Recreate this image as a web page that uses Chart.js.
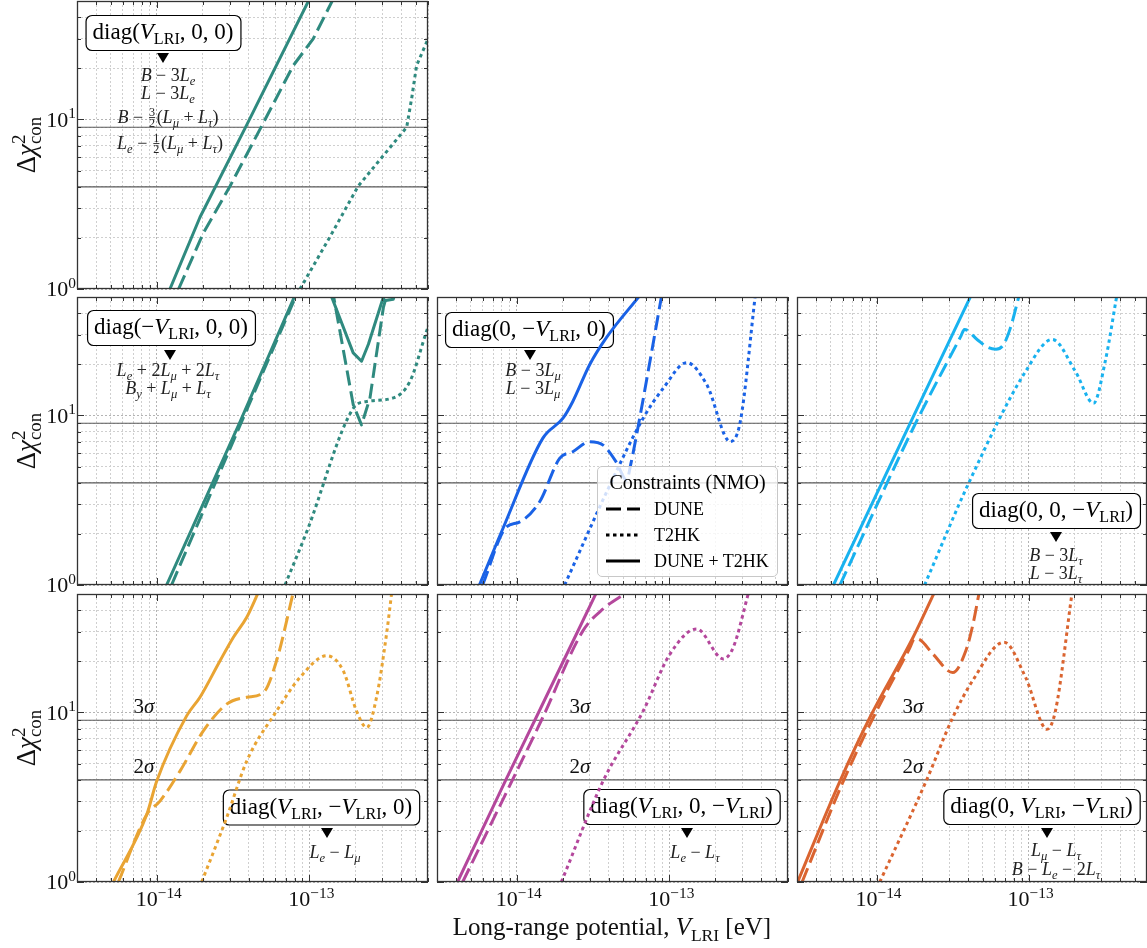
<!DOCTYPE html>
<html>
<head>
<meta charset="utf-8">
<script src="https://cdn.jsdelivr.net/npm/chart.js@4.4.1/dist/chart.umd.min.js"></script>
<style>
  body { margin: 0; background: #fff; }
  #fig { position: relative; width: 1147px; height: 948px; overflow: hidden; font-family: 'Liberation Serif', serif; }
  #fig canvas { position: absolute; left: 0; top: 0; }
  #legend { position: absolute; left: 597px; top: 466px; width: 181px; height: 111px; box-sizing: border-box;
            border: 1px solid #c8c8c8; border-radius: 5px; background: rgba(255,255,255,0.8); z-index: 5; }
  #legend .lt { position: absolute; left: 0; width: 100%; top: 4px; text-align: center; font-size: 20px; }
  #legend .le { position: absolute; left: 8px; font-size: 18px; height: 20px; line-height: 20px; }
  #legend .le svg { position: absolute; left: 0; top: 5px; }
  #legend .le span { position: absolute; left: 48px; white-space: nowrap; }
</style>
</head>
<body>
<div id="fig"><div id="legend"></div></div>
<script>
// axis ranges, sigma levels
const X_MIN = 3e-15, X_MAX = 6e-13;
const Y_MIN = 1, Y_MAX = 50;
const sigmaLevels = [4, 9];
const sigmaNames = ['2', '3'];

// series names (legend)
const seriesNames = ['DUNE', 'T2HK', 'DUNE + T2HK'];

// ---- data: [V_LRI (eV), delta chi^2] ----
// diag(V, 0, 0)
const aDune = [[1.39e-14,1],[2.02e-14,2.14],[3.02e-14,4.04],[4.88e-14,9.17],[7.85e-14,20.8],[1.06e-13,29.9],[1.46e-13,53]];
const aT2hk = [[8.69e-14,1],[1.37e-13,2.04],[2.09e-13,4.04],[4.35e-13,9.0],[4.7e-13,13.5],[5.05e-13,20.8],[5.88e-13,28.6],[6.2e-13,32]];
const aBoth = [[1.22e-14,1],[1.92e-14,2.65],[3.89e-14,9.3],[1.02e-13,53]];
// diag(-V, 0, 0)
const bDune = [[1.25e-14,1],[3.6e-14,9.2],[8.2e-14,51],[1.08e-13,90],[1.44e-13,51],[1.94e-13,11.6],[2.2e-13,8.8],[2.5e-13,12.7],[3.06e-13,43.4],[3.2e-13,50],[3.5e-13,50.5],[3.7e-13,60]];
const bT2hk = [[6.93e-14,1],[9.6e-14,2.05],[1.94e-13,11.0],[2.38e-13,12.1],[3.55e-13,12.7],[4.57e-13,15.9],[5.88e-13,31.5],[6.2e-13,36]];
const bBoth = [[1.16e-14,1],[3.52e-14,9.21],[8.05e-14,51],[1.05e-13,90],[1.39e-13,51],[1.94e-13,23.4],[2.2e-13,20.9],[2.44e-13,26.3],[3.06e-13,50],[3.1e-13,47.5],[3.55e-13,48.5],[3.8e-13,60]];
// diag(0, -V, 0)
const cDune = [[5.97e-15,1],[8.51e-15,2.19],[1.04e-14,2.35],[1.41e-14,3.09],[1.91e-14,5.58],[2.33e-14,6.11],[3.01e-14,7.01],[3.68e-14,6.69],[4.5e-14,5.3],[5.25e-14,4.15],[5.6e-14,5.2],[6.1e-14,7.67],[7.47e-14,20.9],[8.91e-14,51]];
const cT2hk = [[2.06e-14,1],[4.07e-14,3.87],[6.74e-14,9.64],[9.14e-14,14.5],[1.3e-13,20.5],[1.76e-13,15.2],[2.51e-13,7.01],[2.92e-13,9.21],[3.66e-13,51]];
const cBoth = [[5.69e-15,1],[8.09e-15,2.14],[1.48e-14,7.33],[2.01e-14,9.64],[2.33e-14,12.1],[3.01e-14,20.0],[3.87e-14,28.8],[6.41e-14,51]];
// diag(0, 0, -V)
const dDune = [[5.75e-15,1],[1.74e-14,8.41],[3.6e-14,29.6],[3.78e-14,32.2],[4.6e-14,28.0],[5.4e-14,25.2],[6.1e-14,24.6],[6.8e-14,26],[7.6e-14,33],[8.65e-14,51]];
const dT2hk = [[2.07e-14,1],[4.07e-14,4.06],[9.55e-14,18.2],[1.43e-13,28.1],[2.03e-13,18.2],[2.67e-13,11.8],[3.19e-13,20.9],[3.8e-13,51]];
const dBoth = [[5.21e-15,1],[1.5e-14,7.4],[4.18e-14,51]];
// diag(V, -V, 0)
const eDune = [[5.6e-15,1],[8.6e-15,2.5],[1.05e-14,3.0],[1.42e-14,4.51],[2.02e-14,7.78],[2.87e-14,11.2],[3.89e-14,12.3],[5.0e-14,13.1],[6.1e-14,20.2],[7.85e-14,51]];
const eT2hk = [[1.97e-14,1],[2.87e-14,2.39],[3.89e-14,5.17],[6.1e-14,10.2],[8.69e-14,16.1],[1.3e-13,21.6],[1.67e-13,17.6],[2.04e-13,10.2],[2.38e-13,8.15],[2.76e-13,12.3],[3.21e-13,29.1],[3.47e-13,51]];
const eBoth = [[5.2e-15,1],[8.6e-15,2.5],[1.0e-14,3.94],[1.57e-14,9.55],[1.92e-14,12.3],[2.6e-14,20.2],[3.18e-14,27.8],[3.89e-14,36.5],[4.63e-14,51]];
// diag(V, 0, -V)
const fDune = [[4.42e-15,1],[9.41e-15,4.03],[1.48e-14,9.34],[2.72e-14,30.4],[3.68e-14,40.8],[5.25e-14,51]];
const fT2hk = [[1.96e-14,1],[3.68e-14,3.94],[6.74e-14,10.2],[1.01e-13,22.1],[1.51e-13,31.1],[2.26e-13,20.7],[2.63e-13,24.3],[3.31e-13,51]];
const fBoth = [[4.09e-15,1],[8.51e-15,4.03],[1.34e-14,9.34],[3.33e-14,51]];
// diag(0, V, -V)
const gDune = [[3.24e-15,1],[6.05e-15,3.94],[9.52e-15,9.34],[1.65e-14,23.9],[1.78e-14,27.2],[1.9e-14,27],[2.35e-14,22.1],[3.17e-14,17.2],[3.87e-14,23.2],[4.3e-14,33],[4.73e-14,51]];
const gT2hk = [[1.05e-14,1],[2.12e-14,3.94],[3.17e-14,9.34],[4.28e-14,15.4],[6.89e-14,26.0],[9.55e-14,16.1],[1.32e-13,7.96],[1.5e-13,10.2],[1.93e-13,51]];
const gBoth = [[3.0e-15,0.98],[5.75e-15,3.94],[9.04e-15,9.34],[1.74e-14,27.8],[2.4e-14,51]];

const TEAL = '#2f8a7f', BLUE = '#1a62e6', SKY = '#18b2ef', GOLD = '#e9a433', PLUM = '#b4479c', RUST = '#da6430';

const SERIF = "'Liberation Serif', serif";
const DASHED = [15, 6], DOTTED = [3.5, 3.5];
const colLeft = [77, 437, 797], rowTop = [1, 297, 594], PW = 351, PH = 288;
const NOTE = 18;

// math-ish rich text runs: r roman, i italic, s sub, is italic sub, p sup, p0 sup w/o advance, f fraction
function runSpec(st, size) {
  switch (st) {
    case 'i': return { sz: size, it: true, dy: 0 };
    case 's': return { sz: size * 0.7, it: false, dy: size * 0.22 };
    case 'is': return { sz: size * 0.7, it: true, dy: size * 0.2 };
    case 'p': case 'p0': return { sz: size * 0.7, it: false, dy: -size * 0.38 };
    default: return { sz: size, it: false, dy: 0 };
  }
}
function setFont(ctx, sp) { ctx.font = (sp.it ? 'italic ' : '') + sp.sz.toFixed(1) + 'px ' + SERIF; }
function measureRuns(ctx, runs, size) {
  let w = 0;
  runs.forEach(([t, st]) => {
    if (st === 'f') {
      const [n, d] = t.split('/');
      ctx.font = (size * 0.68).toFixed(1) + 'px ' + SERIF;
      w += Math.max(ctx.measureText(n).width, ctx.measureText(d).width) + 3;
      return;
    }
    setFont(ctx, runSpec(st, size));
    if (st !== 'p0') w += ctx.measureText(t).width;
  });
  return w;
}
function drawRuns(ctx, runs, cx, cy, size, align) {
  const w = measureRuns(ctx, runs, size);
  let x = align === 'right' ? cx - w : align === 'left' ? cx : cx - w / 2;
  const base = cy + size * 0.33;
  ctx.textAlign = 'left';
  ctx.textBaseline = 'alphabetic';
  runs.forEach(([t, st]) => {
    if (st === 'f') {
      const [n, d] = t.split('/');
      ctx.font = (size * 0.68).toFixed(1) + 'px ' + SERIF;
      const wn = ctx.measureText(n).width, wd = ctx.measureText(d).width, fw = Math.max(wn, wd);
      const bar = base - size * 0.3;
      ctx.fillText(n, x + 1.5 + (fw - wn) / 2, bar - size * 0.08);
      ctx.fillText(d, x + 1.5 + (fw - wd) / 2, bar + size * 0.55);
      ctx.fillRect(x + 1.5, bar - 0.4, fw, 0.9);
      x += fw + 3;
      return;
    }
    const sp = runSpec(st, size);
    setFont(ctx, sp);
    ctx.fillText(t, x, base + sp.dy);
    if (st !== 'p0') x += ctx.measureText(t).width;
  });
  return w;
}

// smooth flags per series: [DUNE + T2HK, DUNE, T2HK]
const panels = [
  { col: 0, row: 0, color: TEAL, dune: aDune, t2hk: aT2hk, both: aBoth, smooth: [false, false, false],
    label: [['diag(', 'r'], ['V', 'i'], ['LRI', 's'], [', 0, 0)', 'r']], box: [163, 32.5], tri: [163, 58],
    lines: [[168, 75, [['B', 'i'], [' − 3', 'r'], ['L', 'i'], ['e', 'is']]],
            [168, 93, [['L', 'i'], [' − 3', 'r'], ['L', 'i'], ['e', 'is']]],
            [168, 117, [['B', 'i'], [' − ', 'r'], ['3/2', 'f'], ['(', 'r'], ['L', 'i'], ['μ', 'is'], [' + ', 'r'], ['L', 'i'], ['τ', 'is'], [')', 'r']]],
            [170, 143, [['L', 'i'], ['e', 'is'], [' − ', 'r'], ['1/2', 'f'], ['(', 'r'], ['L', 'i'], ['μ', 'is'], [' + ', 'r'], ['L', 'i'], ['τ', 'is'], [')', 'r']]]] },
  { col: 0, row: 1, color: TEAL, dune: bDune, t2hk: bT2hk, both: bBoth, smooth: [false, false, true],
    label: [['diag(−', 'r'], ['V', 'i'], ['LRI', 's'], [', 0, 0)', 'r']], box: [171, 327.5], tri: [170, 355],
    lines: [[168, 370, [['L', 'i'], ['e', 'is'], [' + 2', 'r'], ['L', 'i'], ['μ', 'is'], [' + 2', 'r'], ['L', 'i'], ['τ', 'is']]],
            [168, 388, [['B', 'i'], ['y', 'is'], [' + ', 'r'], ['L', 'i'], ['μ', 'is'], [' + ', 'r'], ['L', 'i'], ['τ', 'is']]]] },
  { col: 1, row: 1, color: BLUE, dune: cDune, t2hk: cT2hk, both: cBoth, smooth: [true, true, true],
    label: [['diag(0, −', 'r'], ['V', 'i'], ['LRI', 's'], [', 0)', 'r']], box: [529, 329.5], tri: [530, 355],
    lines: [[533, 370, [['B', 'i'], [' − 3', 'r'], ['L', 'i'], ['μ', 'is']]],
            [533, 388, [['L', 'i'], [' − 3', 'r'], ['L', 'i'], ['μ', 'is']]]] },
  { col: 2, row: 1, color: SKY, dune: dDune, t2hk: dT2hk, both: dBoth, smooth: [true, true, true],
    label: [['diag(0, 0, −', 'r'], ['V', 'i'], ['LRI', 's'], [')', 'r']], box: [1056, 510.5], tri: [1056, 537],
    lines: [[1056, 555, [['B', 'i'], [' − 3', 'r'], ['L', 'i'], ['τ', 'is']]],
            [1056, 573, [['L', 'i'], [' − 3', 'r'], ['L', 'i'], ['τ', 'is']]]] },
  { col: 0, row: 2, color: GOLD, dune: eDune, t2hk: eT2hk, both: eBoth, smooth: [true, true, true], sigma: 144,
    label: [['diag(', 'r'], ['V', 'i'], ['LRI', 's'], [', −', 'r'], ['V', 'i'], ['LRI', 's'], [', 0)', 'r']], box: [321, 807], tri: [327, 833],
    lines: [[335, 852, [['L', 'i'], ['e', 'is'], [' − ', 'r'], ['L', 'i'], ['μ', 'is']]]] },
  { col: 1, row: 2, color: PLUM, dune: fDune, t2hk: fT2hk, both: fBoth, smooth: [true, true, true], sigma: 580, xTitle: true,
    label: [['diag(', 'r'], ['V', 'i'], ['LRI', 's'], [', 0, −', 'r'], ['V', 'i'], ['LRI', 's'], [')', 'r']], box: [681.5, 806.5], tri: [687, 833],
    lines: [[695, 852, [['L', 'i'], ['e', 'is'], [' − ', 'r'], ['L', 'i'], ['τ', 'is']]]] },
  { col: 2, row: 2, color: RUST, dune: gDune, t2hk: gT2hk, both: gBoth, smooth: [true, true, true], sigma: 913,
    label: [['diag(0, ', 'r'], ['V', 'i'], ['LRI', 's'], [', −', 'r'], ['V', 'i'], ['LRI', 's'], [')', 'r']], box: [1041.5, 806.5], tri: [1047, 833],
    lines: [[1056, 850, [['L', 'i'], ['μ', 'is'], [' − ', 'r'], ['L', 'i'], ['τ', 'is']]],
            [1056, 869, [['B', 'i'], [' − ', 'r'], ['L', 'i'], ['e', 'is'], [' − 2', 'r'], ['L', 'i'], ['τ', 'is']]]] }
];

function logTicks(lo, hi) {
  const out = [];
  for (let d = Math.floor(Math.log10(lo)); d <= Math.ceil(Math.log10(hi)); d++) {
    for (let m = 1; m <= 9; m++) {
      const v = m * Math.pow(10, d);
      if (v >= lo * 0.9999 && v <= hi * 1.0001) out.push(v);
    }
  }
  return out;
}
function isMajor(v) { const l = Math.log10(v); return Math.abs(l - Math.round(l)) < 1e-6; }
function expStr(v) { const e = Math.round(Math.log10(v)); return (e < 0 ? '−' : '') + Math.abs(e); }

function series(pairs, color, dash, smooth) {
  return {
    data: pairs.map(([x, y]) => ({ x, y })),
    borderColor: color, borderWidth: 3, borderDash: dash, borderCapStyle: 'butt', borderJoinStyle: 'round',
    pointRadius: 0, fill: false, clip: 0,
    cubicInterpolationMode: smooth ? 'monotone' : 'default', tension: 0
  };
}

// annotation boxes under the curves, frame/ticks/labels on top
const annotatePlugin = {
  id: 'annotate',
  beforeDatasetsDraw(chart) {
    const p = chart.config.options.panel;
    const ctx = chart.ctx;
    ctx.save();
    const size = 23;
    const w = measureRuns(ctx, p.label, size) + 14, h = 35;
    const [bx, by] = p.box;
    ctx.beginPath();
    ctx.roundRect(bx - w / 2 + 0.5, by - h / 2 + 0.5, w, h, 6);
    ctx.fillStyle = '#fff';
    ctx.fill();
    ctx.lineWidth = 1.2;
    ctx.strokeStyle = '#000';
    ctx.stroke();
    ctx.fillStyle = '#000';
    drawRuns(ctx, p.label, bx, by - 1, size);
    const [tx, ty] = p.tri;
    ctx.beginPath();
    ctx.moveTo(tx - 6, ty - 5);
    ctx.lineTo(tx + 6, ty - 5);
    ctx.lineTo(tx, ty + 5);
    ctx.closePath();
    ctx.fill();
    ctx.fillStyle = '#222';
    p.lines.forEach(([lx, ly, runs]) => drawRuns(ctx, runs, lx, ly, NOTE));
    if (p.sigma) {
      const y = chart.scales.y;
      ctx.fillStyle = '#111';
      sigmaLevels.forEach((lvl, i) => {
        drawRuns(ctx, [[sigmaNames[i], 'r'], ['σ', 'i']], p.sigma, y.getPixelForValue(lvl) - 14, 21);
      });
    }
    ctx.restore();
  },
  afterDraw(chart) {
    const p = chart.config.options.panel;
    const { ctx, chartArea: a, scales: { x, y } } = chart;
    ctx.save();
    ctx.strokeStyle = '#333';
    ctx.lineWidth = 1;
    ctx.beginPath();
    x.ticks.forEach(t => {
      const px = Math.round(x.getPixelForValue(t.value)) + 0.5, len = isMajor(t.value) ? 7 : 4;
      ctx.moveTo(px, a.bottom); ctx.lineTo(px, a.bottom - len);
      ctx.moveTo(px, a.top); ctx.lineTo(px, a.top + len);
    });
    y.ticks.forEach(t => {
      const py = Math.round(y.getPixelForValue(t.value)) + 0.5, len = isMajor(t.value) ? 7 : 4;
      ctx.moveTo(a.left, py); ctx.lineTo(a.left + len, py);
      ctx.moveTo(a.right, py); ctx.lineTo(a.right - len, py);
    });
    ctx.stroke();
    ctx.lineWidth = 1.3;
    ctx.strokeRect(a.left + 0.5, a.top + 0.5, a.right - a.left - 1, a.bottom - a.top - 1);
    ctx.fillStyle = '#111';
    if (p.col === 0) {
      y.ticks.filter(t => isMajor(t.value)).forEach(t => {
        drawRuns(ctx, [['10', 'r'], [expStr(t.value), 'p']], a.left - 1, y.getPixelForValue(t.value), 22, 'right');
      });
      ctx.save();
      ctx.translate(26, (a.top + a.bottom) / 2);
      ctx.rotate(-Math.PI / 2);
      drawRuns(ctx, [['Δ', 'r'], ['χ', 'i'], ['2', 'p0'], ['con', 's']], 0, 0, 27);
      ctx.restore();
    }
    if (p.row === 2) {
      x.ticks.filter(t => isMajor(t.value)).forEach(t => {
        drawRuns(ctx, [['10', 'r'], [expStr(t.value), 'p']], x.getPixelForValue(t.value) + 2, a.bottom + 17, 22);
      });
    }
    if (p.xTitle) {
      drawRuns(ctx, [['Long-range potential, ', 'r'], ['V', 'i'], ['LRI', 's'], [' [eV]', 'r']], 612, 927, 25);
    }
    ctx.restore();
  }
};

const fig = document.getElementById('fig');
panels.forEach(p => {
  const cv = document.createElement('canvas');
  cv.width = 1147; cv.height = 948;
  cv.style.width = '1147px'; cv.style.height = '948px';
  fig.appendChild(cv);
  const L = colLeft[p.col], T = rowTop[p.row];
  const datasets = [
    series(p.both, p.color, [], p.smooth[0]),
    series(p.dune, p.color, DASHED, p.smooth[1]),
    series(p.t2hk, p.color, DOTTED, p.smooth[2])
  ];
  sigmaLevels.forEach(lvl => datasets.push({
    data: [{ x: X_MIN, y: lvl }, { x: X_MAX, y: lvl }],
    borderColor: '#5a5a5a', borderWidth: 1.2, pointRadius: 0, fill: false, clip: 0, tension: 0
  }));
  const gridColor = c => (c.tick && isMajor(c.tick.value)) ? '#b4b4b4' : '#cfcfcf';
  new Chart(cv, {
    type: 'line',
    data: { datasets },
    plugins: [annotatePlugin],
    options: {
      panel: p,
      responsive: false,
      animation: false,
      devicePixelRatio: 1,
      events: [],
      layout: { padding: { left: L, top: T, right: 1147 - L - PW, bottom: 948 - T - PH } },
      plugins: { legend: { display: false }, tooltip: { enabled: false } },
      scales: {
        x: {
          type: 'logarithmic', min: X_MIN, max: X_MAX,
          afterBuildTicks: s => { s.ticks = logTicks(X_MIN, X_MAX).map(v => ({ value: v })); },
          afterFit: s => { s.height = 0; },
          ticks: { display: false, autoSkip: false },
          grid: { color: gridColor, drawTicks: false, lineWidth: 1 },
          border: { display: false, dash: [2, 2] }
        },
        y: {
          type: 'logarithmic', min: Y_MIN, max: Y_MAX,
          afterBuildTicks: s => { s.ticks = logTicks(Y_MIN, Y_MAX).map(v => ({ value: v })); },
          afterFit: s => { s.width = 0; },
          ticks: { display: false, autoSkip: false },
          grid: { color: gridColor, drawTicks: false, lineWidth: 1 },
          border: { display: false, dash: [2, 2] }
        }
      }
    }
  });
});

// legend (line styles shared by every panel)
const legendStyles = [DASHED, DOTTED, []];
const lg = document.getElementById('legend');
let html = '<div class="lt">Constraints (NMO)</div>';
seriesNames.forEach((name, i) => {
  const dash = legendStyles[i].length ? ` stroke-dasharray="${legendStyles[i].join(' ')}"` : '';
  html += `<div class="le" style="top:${32 + i * 26}px"><svg width="34" height="10"><line x1="0" y1="5" x2="34" y2="5" stroke="#000" stroke-width="3"${dash}/></svg><span>${name}</span></div>`;
});
lg.innerHTML = html;
</script>
</body>
</html>
